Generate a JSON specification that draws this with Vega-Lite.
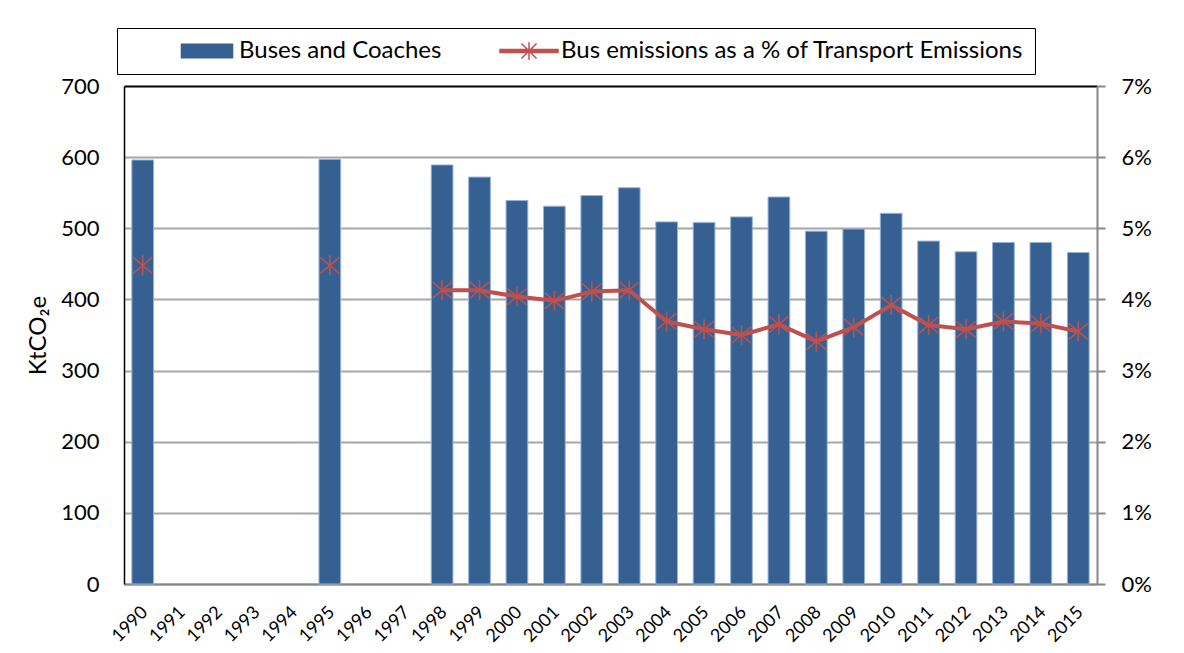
{
  "$schema": "https://vega.github.io/schema/vega-lite/v6.json",
  "width": 973,
  "height": 498,
  "autosize": {"type": "none"},
  "padding": {"left": 124, "top": 86, "right": 87, "bottom": 69},
  "background": "white",
  "config": {
    "view": {"stroke": null},
    "font": "Lato",
    "axis": {"labelFont": "Lato", "titleFont": "Lato", "labelColor": "black", "titleColor": "black"},
    "legend": {
      "orient": "none",
      "legendX": -7,
      "legendY": -58,
      "direction": "horizontal",
      "strokeColor": "black",
      "fillColor": "white",
      "padding": 11,
      "clipHeight": 24,
      "labelFont": "Lato",
      "labelFontSize": 24,
      "labelColor": "black",
      "labelLimit": 900,
      "symbolSize": 3364,
      "symbolOpacity": 1,
      "columnPadding": 8,
      "labelOffset": 2,
      "symbolOffset": 49
    }
  },
  "data": {
    "values": [
      {"year": "1990", "buses": 596, "pct": 0.0448},
      {"year": "1991", "buses": null, "pct": null},
      {"year": "1992", "buses": null, "pct": null},
      {"year": "1993", "buses": null, "pct": null},
      {"year": "1994", "buses": null, "pct": null},
      {"year": "1995", "buses": 597, "pct": 0.0448},
      {"year": "1996", "buses": null, "pct": null},
      {"year": "1997", "buses": null, "pct": null},
      {"year": "1998", "buses": 589, "pct": 0.0413},
      {"year": "1999", "buses": 572, "pct": 0.0413},
      {"year": "2000", "buses": 539, "pct": 0.0404},
      {"year": "2001", "buses": 531, "pct": 0.0398},
      {"year": "2002", "buses": 546, "pct": 0.0411},
      {"year": "2003", "buses": 557, "pct": 0.0413},
      {"year": "2004", "buses": 509, "pct": 0.0369},
      {"year": "2005", "buses": 508, "pct": 0.0358},
      {"year": "2006", "buses": 516, "pct": 0.0350},
      {"year": "2007", "buses": 544, "pct": 0.0365},
      {"year": "2008", "buses": 496, "pct": 0.0341},
      {"year": "2009", "buses": 499, "pct": 0.0361},
      {"year": "2010", "buses": 521, "pct": 0.0392},
      {"year": "2011", "buses": 482, "pct": 0.0364},
      {"year": "2012", "buses": 467, "pct": 0.0358},
      {"year": "2013", "buses": 480, "pct": 0.0369},
      {"year": "2014", "buses": 480, "pct": 0.0366},
      {"year": "2015", "buses": 466, "pct": 0.0355}
    ]
  },
  "encoding": {
    "x": {
      "field": "year",
      "type": "ordinal",
      "scale": {
        "domain": ["1990","1991","1992","1993","1994","1995","1996","1997","1998","1999","2000","2001","2002","2003","2004","2005","2006","2007","2008","2009","2010","2011","2012","2013","2014","2015"],
        "paddingInner": 0.42,
        "paddingOuter": 0.21
      },
      "axis": {
        "title": null,
        "labelAngle": -45,
        "labelFontSize": 18,
        "labelPadding": 19,
        "labelOffset": -4,
        "ticks": false,
        "tickSize": 0,
        "domainColor": "#868686",
        "domainWidth": 2,
        "grid": false
      }
    }
  },
  "layer": [
    {
      "mark": {"type": "bar", "stroke": "#95B3D7", "strokeWidth": 1},
      "encoding": {
        "y": {
          "field": "buses",
          "type": "quantitative",
          "scale": {"domain": [0, 700], "nice": false},
          "axis": {
            "title": "KtCO₂e",
            "titleFontSize": 24,
            "titleFontWeight": "normal",
            "titlePadding": 10,
            "values": [0, 100, 200, 300, 400, 500, 600, 700],
            "labelFontSize": 22,
            "labelPadding": 25,
            "ticks": false,
            "tickSize": 0,
            "domainColor": "black",
            "domainWidth": 1.5,
            "grid": true,
            "gridColor": {"condition": {"test": "datum.value === 700", "value": "black"}, "value": "#A6A6A6"},
            "gridWidth": 2
          }
        },
        "color": {
          "datum": "Buses and Coaches",
          "type": "nominal",
          "scale": {
            "domain": ["Buses and Coaches", "Bus emissions as a % of Transport Emissions"],
            "range": ["#366092", "#C0504D"]
          },
          "legend": {"title": null}
        }
      }
    },
    {
      "layer": [
        {
          "mark": {"type": "line", "strokeWidth": 4, "strokeJoin": "round", "invalid": "break-paths-show-domains"},
          "encoding": {
            "y": {
              "field": "pct",
              "type": "quantitative",
              "scale": {"domain": [0, 0.07], "nice": false},
              "axis": {
                "orient": "right",
                "title": null,
                "format": ".0%",
                "values": [0, 0.01, 0.02, 0.03, 0.04, 0.05, 0.06, 0.07],
                "labelFontSize": 22,
                "labelPadding": 16,
                "ticks": true,
                "tickSize": 8,
                "tickWidth": 2,
                "tickColor": "#868686",
                "domainColor": "#868686",
                "domainWidth": 2,
                "grid": false
              }
            },
            "color": {"datum": "Bus emissions as a % of Transport Emissions", "type": "nominal", "legend": {"title": null}}
          }
        },
        {
          "mark": {
            "type": "point",
            "shape": "M-0.95,-0.8L0.95,0.8M-0.95,0.8L0.95,-0.8M0,-1V1",
            "filled": false,
            "stroke": "#C0504D",
            "strokeWidth": 1.6,
            "size": 400,
            "opacity": 1
          },
          "encoding": {
            "y": {"field": "pct", "type": "quantitative"}
          }
        },
        {
          "transform": [{"filter": "datum.pct > 1"}],
          "mark": {"type": "point", "filled": false, "opacity": 1},
          "encoding": {
            "y": {"field": "pct", "type": "quantitative"},
            "color": {"datum": "Bus emissions as a % of Transport Emissions", "type": "nominal", "legend": {"title": null}},
            "shape": {
              "datum": "Bus emissions as a % of Transport Emissions",
              "type": "nominal",
              "scale": {
                "domain": ["Buses and Coaches", "Bus emissions as a % of Transport Emissions"],
                "range": ["M-0.88,-0.23H0.88V0.23H-0.88Z", "M-1,-0.055H1V0.055H-1ZM-0.26,-0.26L0.26,0.26M-0.26,0.26L0.26,-0.26M0,-0.3V0.3"]
              },
              "legend": {
                "title": null,
                "labelExpr": "datum.value === 'Buses and Coaches' ? datum.label : datum.label + '\u00a0\u00a0\u00a0\u00a0\u00a0\u00a0\u00a0\u00a0\u00a0\u00a0\u00a0\u00a0'"
              }
            }
          }
        }
      ]
    }
  ],
  "resolve": {"scale": {"y": "independent"}}
}
